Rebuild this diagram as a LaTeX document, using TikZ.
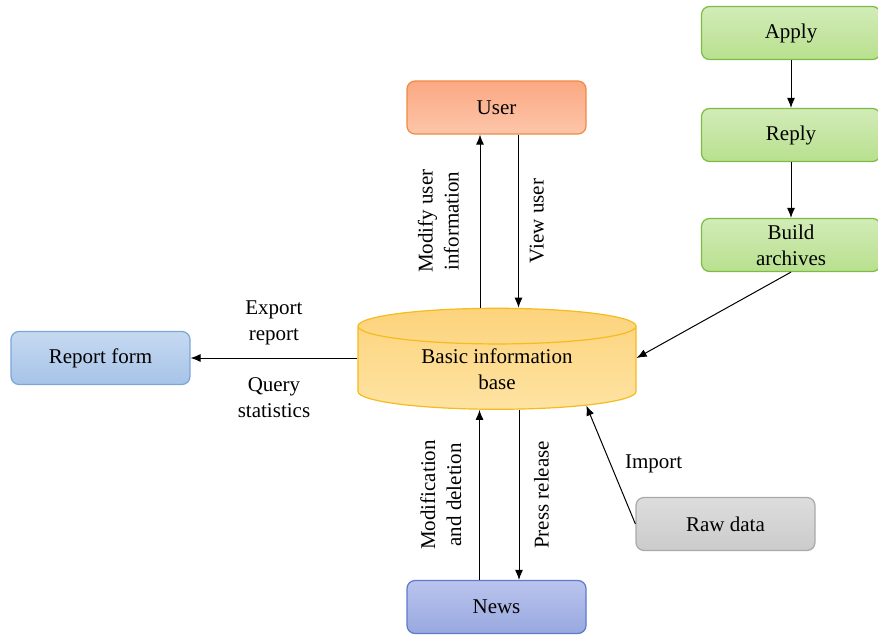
\documentclass[tikz,border=0pt]{standalone}
\usepackage{fontspec}
\setmainfont{Liberation Serif}
\usepackage{tikz}
\usetikzlibrary{shapes.geometric,arrows.meta}
\definecolor{userline}{HTML}{EE8B45}
\definecolor{greenline}{HTML}{7DBB42}
\definecolor{reportline}{HTML}{7BA6D8}
\definecolor{newsline}{HTML}{5B7BCC}
\definecolor{rawline}{HTML}{A9A9A9}
\definecolor{baseline}{HTML}{F5BB1F}
\tikzset{
% One box style for all the boxes, and one colour style for each kind
box node/.style={rectangle,rounded corners=4pt,minimum width=89.5pt,minimum height=26.5pt,
  align=center,inner sep=1pt,line width=0.6pt},
user node/.style={box node,draw=userline,top color={rgb,255:red,251;green,168;blue,130},bottom color={rgb,255:red,253;green,198;blue,170}},
step node/.style={box node,draw=greenline,top color={rgb,255:red,210;green,236;blue,184},bottom color={rgb,255:red,184;green,224;blue,142}},
report node/.style={box node,draw=reportline,top color={rgb,255:red,198;green,217;blue,241},bottom color={rgb,255:red,166;green,195;blue,232}},
news node/.style={box node,draw=newsline,top color={rgb,255:red,186;green,196;blue,237},bottom color={rgb,255:red,152;green,168;blue,223}},
raw node/.style={box node,draw=rawline,top color={rgb,255:red,222;green,221;blue,221},bottom color={rgb,255:red,204;green,203;blue,203}},
base node/.style={cylinder,shape border rotate=90,aspect=0.23,minimum width=139pt,minimum height=50.5pt,
  draw=baseline,line width=0.6pt,align=center,inner sep=1pt,
  top color={rgb,255:red,253;green,211;blue,124},bottom color={rgb,255:red,254;green,227;blue,162}},
flow/.style={->,line width=0.5pt}
}
\begin{document}
\begin{tikzpicture}[x=0.5pt,y=-0.5pt,font=\fontsize{10.5}{13}\selectfont,>={Latex[length=5pt,width=4pt]}]
\useasboundingbox (0,0) rectangle (878,637);
% The boxes
\node(base)[base node] at (497,369.5){Basic information\\base};
\node(user)[user node] at (496.5,107.5){User};
\node(news)[news node] at (496.5,607){News};
\node(report)[report node] at (100.5,358){Report form};
\node(raw)[raw node] at (725.5,524){Raw data};
\node(apply)[step node] at (791,33){Apply};
\node(reply)[step node] at (791,135){Reply};
\node(build)[step node] at (791,245){Build\\archives};
% The connectors
\draw[flow] (apply) -- (reply);
\draw[flow] (reply) -- (build);
\draw[flow] (build.south) -- (base.east |- report.east);
\draw[flow] (raw.west) -- (base.-22)
  node[pos=0.5,above right,xshift=3.5pt,yshift=-7.5pt]{Import};
\draw[flow] (base.west |- report.east) -- (report.east)
  node[midway,above=3pt,align=center]{Export\\report}
  node[midway,below=6pt,align=center]{Query\\statistics};
\draw[flow] ([xshift=-8.5pt]base.north) -- ([xshift=-8.5pt]base.north |- user.south)
  node[midway,rotate=90,anchor=south,align=center,yshift=7pt]{Modify user\\information};
\draw[flow] ([xshift=11pt]user.south) -- ([xshift=11pt]user.south |- base.north)
  node[midway,rotate=90,anchor=north,yshift=-2pt]{View user};
\draw[flow] ([xshift=-8.5pt]news.north) -- ([xshift=-8.5pt]news.north |- base.south)
  node[midway,rotate=90,anchor=south,align=center,yshift=5.5pt]{Modification\\and deletion};
\draw[flow] ([xshift=11pt]base.south) -- ([xshift=11pt]base.south |- news.north)
  node[midway,rotate=90,anchor=north,yshift=-4pt]{Press release};
\end{tikzpicture}
\end{document}
